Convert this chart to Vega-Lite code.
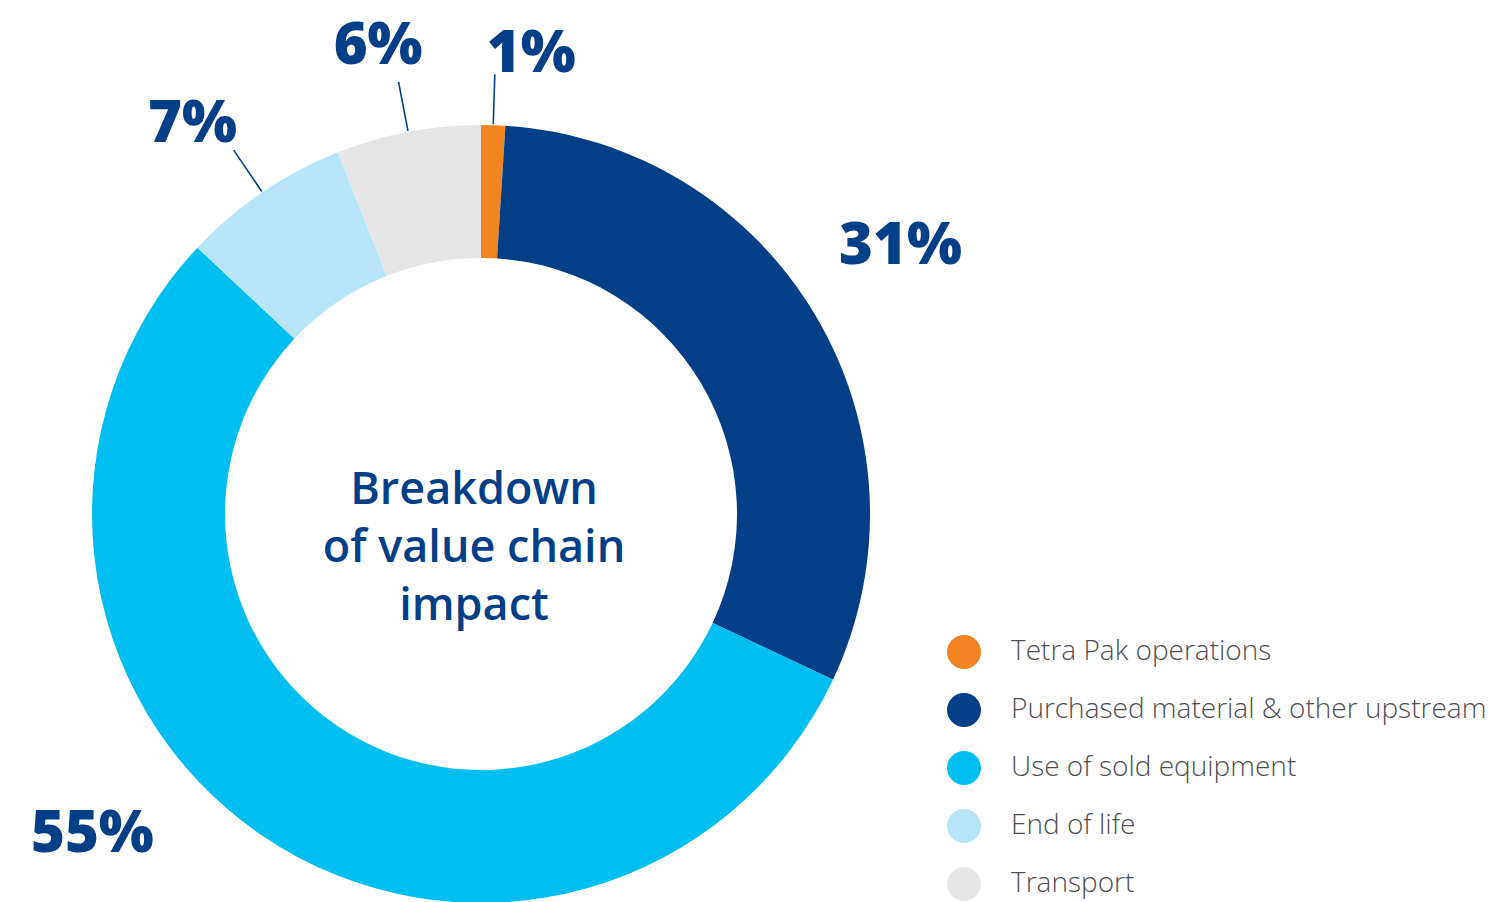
{
  "$schema": "https://vega.github.io/schema/vega-lite/v6.json",
  "autosize": {"type": "none"},
  "width": 778,
  "height": 776,
  "padding": {"left": 92, "top": 126, "right": 642, "bottom": 0},
  "background": "white",
  "config": {"view": {"stroke": null}},
  "data": {
    "values": [
      {"category": "Tetra Pak operations", "share": 1, "label": "1%", "order": 1},
      {"category": "Purchased material & other upstream", "share": 31, "label": "31%", "order": 2},
      {"category": "Use of sold equipment", "share": 55, "label": "55%", "order": 3},
      {"category": "End of life", "share": 7, "label": "7%", "order": 4},
      {"category": "Transport", "share": 6, "label": "6%", "order": 5}
    ]
  },
  "layer": [
    {
      "mark": {"type": "arc", "radius": 389, "radius2": 256},
      "encoding": {
        "theta": {"field": "share", "type": "quantitative", "stack": true},
        "order": {"field": "order", "type": "quantitative"},
        "color": {
          "field": "category",
          "type": "nominal",
          "scale": {
            "domain": ["Tetra Pak operations", "Purchased material & other upstream", "Use of sold equipment", "End of life", "Transport"],
            "range": ["#F28522", "#033F87", "#00BEF0", "#B8E4F8", "#E5E5E5"]
          },
          "legend": {
            "title": null,
            "orient": "none",
            "legendX": 855,
            "legendY": 509,
            "padding": 0,
            "symbolType": "circle",
            "symbolSize": 1156,
            "symbolStrokeWidth": 0,
            "symbolOpacity": 1,
            "labelFont": "Open Sans",
            "labelFontSize": 28,
            "labelFontWeight": 300,
            "labelColor": "#4F4F4F",
            "labelOffset": 30,
            "labelLimit": 800,
            "rowPadding": 24
          }
        }
      }
    },
    {
      "mark": {"type": "arc", "radius": 440, "radius2": 390, "padAngle": 3.1416, "filled": false, "stroke": "#033F87", "strokeWidth": 1.6},
      "encoding": {
        "theta": {"field": "share", "type": "quantitative", "stack": true},
        "order": {"field": "order", "type": "quantitative"},
        "strokeOpacity": {"condition": {"test": "datum.share < 10", "value": 1}, "value": 0}
      }
    },
    {
      "mark": {
        "type": "text",
        "radius": 485,
        "font": "Open Sans",
        "fontSize": 58,
        "fontWeight": 800,
        "color": "#033F87",
        "align": "center",
        "baseline": "middle",
        "dx": {"expr": "datum.share == 1 ? 35 : datum.share == 6 ? -12 : datum.share == 7 ? -16 : datum.share == 31 ? 2 : -116"},
        "dy": {"expr": "datum.share == 1 ? 26 : datum.share == 6 ? 9 : datum.share == 7 ? 12 : datum.share == 31 ? -20 : -80"}
      },
      "encoding": {
        "theta": {"field": "share", "type": "quantitative", "stack": true},
        "order": {"field": "order", "type": "quantitative"},
        "text": {"field": "label"}
      }
    },
    {
      "data": {"values": [{"title": "Breakdown of value chain impact"}]},
      "mark": {
        "type": "text",
        "text": ["Breakdown", "of value chain", "impact"],
        "font": "Open Sans",
        "fontSize": 45,
        "fontWeight": 600,
        "lineHeight": 58,
        "color": "#033F87",
        "align": "center",
        "baseline": "middle",
        "dx": -7,
        "dy": -24
      },
      "encoding": {}
    }
  ]
}
